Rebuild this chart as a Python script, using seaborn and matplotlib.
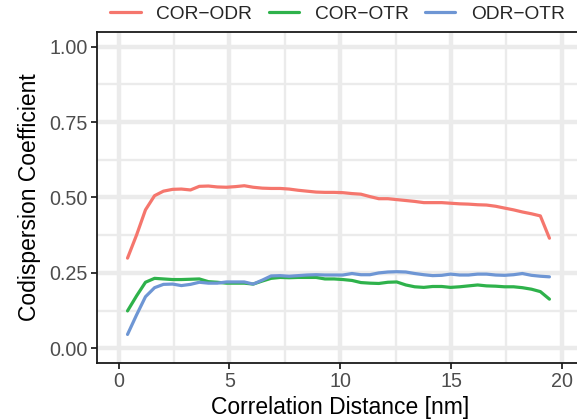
import matplotlib
matplotlib.use("Agg")
from matplotlib import pyplot as plt
from matplotlib.ticker import MultipleLocator
import numpy as np
import pandas as pd
import seaborn as sns

# correlation distance (nm)
dist = [0.40, 0.81, 1.21, 1.62, 2.02, 2.43, 2.83, 3.24, 3.64, 4.05, 4.45, 4.86,
        5.26, 5.67, 6.07, 6.48, 6.88, 7.29, 7.69, 8.10, 8.50, 8.91, 9.31, 9.72,
        10.12, 10.53, 10.93, 11.34, 11.74, 12.15, 12.55, 12.96, 13.36, 13.77, 14.17, 14.58,
        14.98, 15.39, 15.79, 16.20, 16.60, 17.01, 17.41, 17.82, 18.22, 18.63, 19.03, 19.44]

cor_odr = [0.299, 0.376, 0.459, 0.506, 0.521, 0.527, 0.528, 0.525, 0.537, 0.538, 0.535, 0.534,
           0.536, 0.539, 0.534, 0.531, 0.530, 0.530, 0.528, 0.524, 0.521, 0.518, 0.517, 0.517,
           0.516, 0.513, 0.511, 0.503, 0.496, 0.496, 0.493, 0.490, 0.487, 0.483, 0.483, 0.483,
           0.481, 0.479, 0.478, 0.476, 0.475, 0.471, 0.465, 0.459, 0.452, 0.446, 0.439, 0.365]

cor_otr = [0.124, 0.174, 0.219, 0.232, 0.230, 0.228, 0.228, 0.229, 0.230, 0.221, 0.219, 0.216,
           0.216, 0.216, 0.213, 0.223, 0.232, 0.235, 0.234, 0.235, 0.235, 0.235, 0.230, 0.230,
           0.228, 0.225, 0.218, 0.216, 0.215, 0.219, 0.220, 0.210, 0.204, 0.202, 0.205, 0.205,
           0.202, 0.204, 0.207, 0.210, 0.207, 0.206, 0.204, 0.204, 0.201, 0.196, 0.188, 0.163]

odr_otr = [0.046, 0.111, 0.171, 0.201, 0.212, 0.213, 0.208, 0.212, 0.219, 0.216, 0.216, 0.220,
           0.220, 0.220, 0.213, 0.226, 0.240, 0.241, 0.239, 0.241, 0.243, 0.244, 0.243, 0.243,
           0.243, 0.248, 0.244, 0.244, 0.250, 0.253, 0.254, 0.253, 0.248, 0.244, 0.241, 0.242,
           0.246, 0.243, 0.243, 0.246, 0.246, 0.243, 0.242, 0.244, 0.248, 0.242, 0.239, 0.237]

pairs = ["COR\u2212ODR", "COR\u2212OTR", "ODR\u2212OTR"]
colors = ["#F5766D", "#2EB24B", "#6E96D4"]

df = pd.concat([
    pd.DataFrame({"dist": dist, "coef": cor_odr, "pair": pairs[0]}),
    pd.DataFrame({"dist": dist, "coef": cor_otr, "pair": pairs[1]}),
    pd.DataFrame({"dist": dist, "coef": odr_otr, "pair": pairs[2]}),
])

sns.set_theme(style="white")
plt.rcParams["font.family"] = ["Liberation Sans", "DejaVu Sans"]

W, H = 577, 419
fig = plt.figure(figsize=(W / 100, H / 100), dpi=100)
ax = fig.add_axes([96.5 / W, (H - 363.4) / H, (584 - 96.5) / W, (363.4 - 31.6) / H])

sns.lineplot(data=df, x="dist", y="coef", hue="pair", palette=dict(zip(pairs, colors)),
             linewidth=2.3, ax=ax, legend=False)

ax.set_xlim(-1, 21)
ax.set_ylim(-0.05, 1.05)
ax.xaxis.set_major_locator(MultipleLocator(5))
ax.xaxis.set_minor_locator(MultipleLocator(2.5))
ax.yaxis.set_major_locator(MultipleLocator(0.25))
ax.yaxis.set_minor_locator(MultipleLocator(0.125))
ax.set_yticks([0, 0.25, 0.5, 0.75, 1.0])
ax.set_yticklabels(["0.00", "0.25", "0.50", "0.75", "1.00"])

ax.grid(which="major", color="#EBEBEB", linewidth=3.2)
ax.grid(which="minor", color="#EBEBEB", linewidth=1.7)
ax.set_axisbelow(True)
for s in ax.spines.values():
    s.set_color("#1A1A1A")
    s.set_linewidth(1.3)

ax.tick_params(which="major", direction="out", length=4, width=1.4, color="#333333",
               labelsize=14.2, labelcolor="#4D4D4D", pad=2.5,
               bottom=True, left=True)
ax.tick_params(which="minor", length=0)

ax.set_xlabel("Correlation Distance [nm]", fontsize=16.5, color="black", labelpad=3)
ax.set_ylabel("Codispersion Coefficient", fontsize=16.5, color="black", labelpad=6)

handles = [plt.Line2D([], [], color=c, linewidth=2.3) for c in colors]
fig.legend(handles, pairs, loc="center", ncol=3, frameon=False,
           bbox_to_anchor=(337.5 / W, 1 - 14 / H), bbox_transform=fig.transFigure,
           fontsize=13.8, handlelength=1.6, handletextpad=0.8, columnspacing=0.85,
           borderpad=0, borderaxespad=0)

fig.savefig("out.png", dpi=100)
